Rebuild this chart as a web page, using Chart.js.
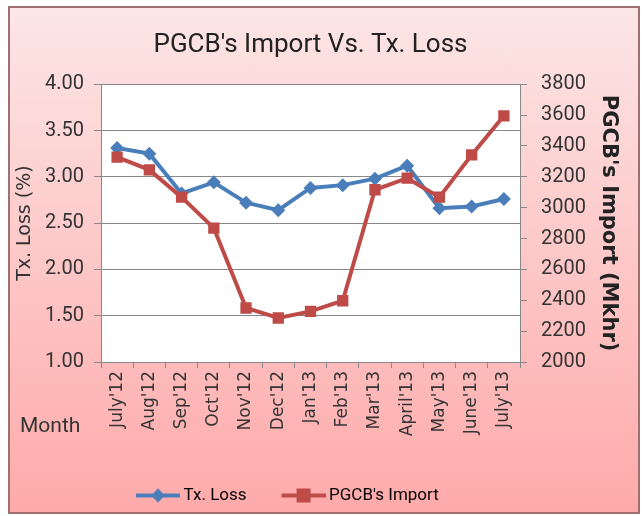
<!DOCTYPE html>
<html>
<head>
<meta charset="utf-8">
<script src="https://cdn.jsdelivr.net/npm/chart.js@4.4.0/dist/chart.umd.min.js"></script>
<style>
  body { margin: 0; background: #ffffff; }
  #frame {
    position: absolute; left: 8px; top: 6px; width: 628px; height: 504px;
    border: 2px solid #a07070;
    background: linear-gradient(to bottom, #fce6e6 0%, #fdcaca 45%, #ffaaaa 100%);
  }
  #chart { position: absolute; left: 0; top: 0; }
</style>
</head>
<body>
<div id="frame"></div>
<canvas id="chart" width="644" height="516"></canvas>
<script>
    const months = ["July'12", "Aug'12", "Sep'12", "Oct'12", "Nov'12", "Dec'12", "Jan'13",
                    "Feb'13", "Mar'13", "April'13", "May'13", "June'13", "July'13"];
    const txLoss = [3.31, 3.25, 2.82, 2.94, 2.72, 2.64, 2.88, 2.91, 2.98, 3.12, 2.66, 2.68, 2.76];
    const pgcbImport = [3327, 3245, 3068, 2868, 2350, 2285, 2328, 2397, 3116, 3191, 3068, 3342, 3595];

    const blue = '#4a7ebb';
    const red = '#be4b48';
    const sans = "Roboto, 'Liberation Sans', sans-serif";
    const dejavu = "'DejaVu Sans', sans-serif";

    // line + marker picture for the legend (left part left empty as spacing)
    function swatch(color, shape) {
      const c = document.createElement('canvas');
      c.width = 74; c.height = 18;
      const g = c.getContext('2d');
      g.strokeStyle = color; g.fillStyle = color; g.lineWidth = 4;
      g.beginPath(); g.moveTo(30, 9); g.lineTo(74, 9); g.stroke();
      if (shape === 'diamond') {
        g.beginPath(); g.moveTo(52, 2); g.lineTo(59, 9); g.lineTo(52, 16); g.lineTo(45, 9); g.closePath(); g.fill();
      } else {
        g.fillRect(45, 2, 14, 14);
      }
      return c;
    }

    const background = {
      id: 'background',
      beforeDraw(chart) {
        const a = chart.chartArea;
        const ctx = chart.ctx;
        ctx.save();
        ctx.fillStyle = '#ffffff';
        ctx.fillRect(a.left, a.top, a.right - a.left, a.bottom - a.top);
        ctx.restore();
      },
      afterDraw(chart) {
        const ctx = chart.ctx;
        ctx.save();
        ctx.font = '21px ' + sans;
        ctx.fillStyle = '#333333';
        ctx.textAlign = 'left';
        ctx.textBaseline = 'middle';
        ctx.fillText('Month', 20, 427);
        ctx.restore();
      }
    };

    const ctx = document.getElementById('chart').getContext('2d');
    const data = {
      labels: months,
      datasets: [{
        label: 'Tx. Loss',
        data: txLoss,
        yAxisID: 'y',
        borderColor: blue,
        backgroundColor: blue,
        borderWidth: 4,
        pointStyle: 'rectRot',
        pointRadius: 7,
        pointHoverRadius: 7,
        pointBorderWidth: 0,
        tension: 0,
        order: 1
      }, {
        label: "PGCB's Import",
        data: pgcbImport,
        yAxisID: 'y1',
        borderColor: red,
        backgroundColor: red,
        borderWidth: 4,
        pointStyle: 'rect',
        pointRadius: 8,
        pointHoverRadius: 8,
        pointBorderWidth: 0,
        tension: 0,
        order: 0
      }]
    };
    const options = {
      responsive: false,
      animation: false,
      layout: {
        padding: { left: 10, right: 19, top: 10, bottom: 2 }
      },
      plugins: {
        title: {
          display: true,
          text: "PGCB's Import Vs. Tx. Loss",
          fullSize: false,
          color: '#222222',
          font: { family: sans, size: 26, weight: 'normal' },
          padding: { top: 20, bottom: 23 }
        },
        legend: {
          position: 'bottom',
          align: 'start',
          fullSize: false,
          labels: {
            usePointStyle: true,
            pointStyleWidth: 64,
            color: '#333333',
            padding: 10,
            font: { family: sans, size: 17 },
            generateLabels: function() {
              return [
                { text: 'Tx. Loss', pointStyle: swatch(blue, 'diamond'), fillStyle: blue, strokeStyle: blue, lineWidth: 0, datasetIndex: 0 },
                { text: "PGCB's Import", pointStyle: swatch(red, 'square'), fillStyle: red, strokeStyle: red, lineWidth: 0, datasetIndex: 1 }
              ];
            }
          }
        },
        tooltip: { enabled: false }
      },
      scales: {
        x: {
          offset: true,
          grid: { offset: true, drawOnChartArea: false, drawTicks: true, tickLength: 6, color: '#888888' },
          border: { color: '#888888' },
          ticks: {
            minRotation: 90, maxRotation: 90, padding: 3, autoSkip: false,
            color: '#333333',
            font: { family: dejavu, size: 17 }
          },
          afterFit(scale) { scale.height = 115; }
        },
        y: {
          position: 'left',
          min: 1, max: 4,
          ticks: {
            stepSize: 0.5, padding: 10, color: '#333333',
            font: { family: sans, size: 20 },
            callback: v => v.toFixed(2)
          },
          grid: { color: '#888888', tickLength: 7 },
          border: { color: '#888888' },
          title: {
            display: true, text: 'Tx. Loss (%)', color: '#333333',
            font: { family: dejavu, size: 19 }
          },
          afterFit(scale) { scale.width = 91; }
        },
        y1: {
          position: 'right',
          min: 2000, max: 3800,
          ticks: {
            stepSize: 200, padding: 14, color: '#333333',
            font: { family: sans, size: 20 },
            callback: v => String(v)
          },
          grid: { drawOnChartArea: false, color: '#888888', tickLength: 7 },
          border: { color: '#888888' },
          title: {
            display: true, text: "PGCB's Import (Mkhr)", color: '#222222',
            font: { family: dejavu, size: 21, weight: 'bold' }
          },
          afterFit(scale) { scale.width = 105; }
        }
      }
    };
    const chart = new Chart(ctx, {
      type: 'line',
      data: data,
      options: options,
      plugins: [background]
    });
</script>
</body>
</html>
